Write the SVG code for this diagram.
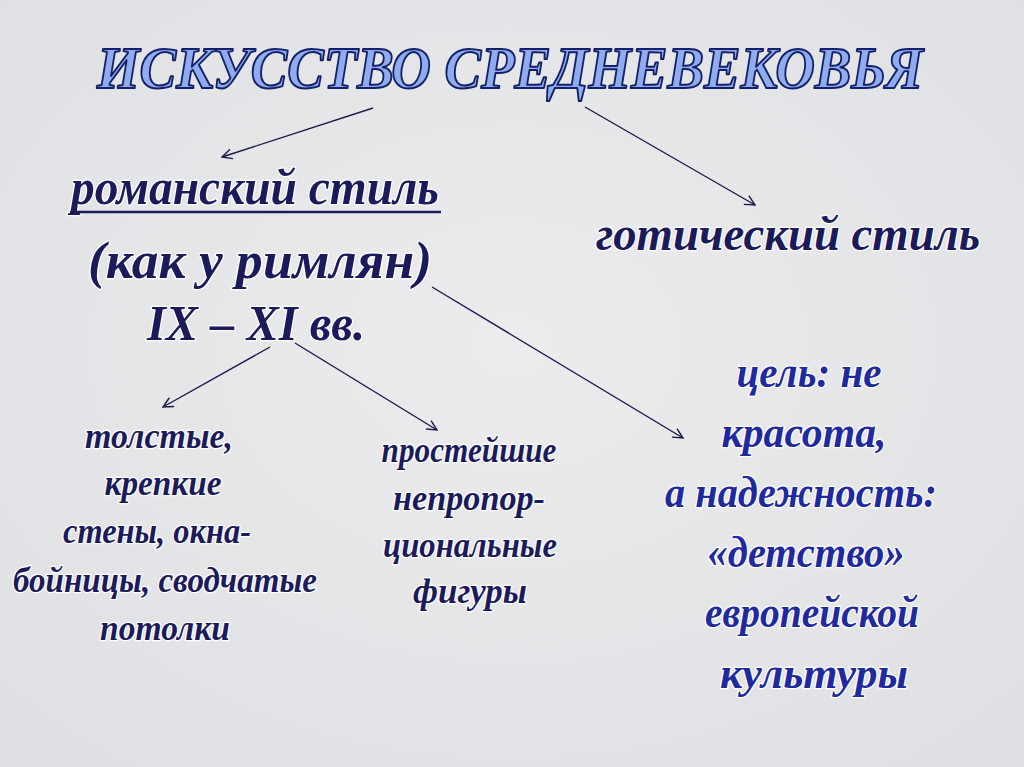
<svg xmlns="http://www.w3.org/2000/svg" width="1024" height="767" viewBox="0 0 1024 767">
<defs>
<radialGradient id="bg" cx="50%" cy="45%" r="70%">
<stop offset="0" stop-color="#ececee"/>
<stop offset="1" stop-color="#dfe0e3"/>
</radialGradient>
<marker id="ah" viewBox="0 0 12 12" refX="11" refY="6" markerWidth="12" markerHeight="12" markerUnits="userSpaceOnUse" orient="auto">
<path d="M1,1 L11,6 L1,11" fill="none" stroke="#1a1a4a" stroke-width="1.4"/>
</marker>
</defs>
<style>
.t{font-family:"Liberation Serif","DejaVu Serif",serif;font-style:italic;font-weight:bold;text-anchor:middle;paint-order:stroke;stroke-linejoin:round}
.d{fill:#1b1b5c;stroke:#ffffff;stroke-width:2.5}
.b{fill:#1f2a9e;stroke:#ffffff;stroke-width:2.5}
.title{fill:#8fadee;stroke:#14206a;stroke-width:2;paint-order:normal}
.c{fill:none;stroke:#1a1a4a;stroke-width:1.4}
</style>
<rect width="1024" height="767" fill="url(#bg)"/>
<g id="title"><text class="t title" x="510" y="88" font-size="60" textLength="826" lengthAdjust="spacingAndGlyphs">ИСКУССТВО СРЕДНЕВЕКОВЬЯ</text></g>
<g id="romanesque">
<text class="t d" x="255" y="204" font-size="50" textLength="368" lengthAdjust="spacingAndGlyphs">романский стиль</text>
<line x1="70" y1="212" x2="441" y2="212" stroke="#1b1b5c" stroke-width="2.5"/>
<text class="t d" x="260" y="278" font-size="52" textLength="344" lengthAdjust="spacingAndGlyphs">(как у  римлян)</text>
<text class="t d" x="256" y="340" font-size="50" textLength="218" lengthAdjust="spacingAndGlyphs">IX – XI вв.</text>
</g>
<g id="gothic"><text class="t d" x="788" y="250" font-size="48" textLength="384" lengthAdjust="spacingAndGlyphs">готический стиль</text></g>
<g id="walls" font-size="36">
<text class="t d" x="159" y="448" textLength="148" lengthAdjust="spacingAndGlyphs">толстые,</text>
<text class="t d" x="163" y="495" textLength="117" lengthAdjust="spacingAndGlyphs">крепкие</text>
<text class="t d" x="157" y="543" textLength="188" lengthAdjust="spacingAndGlyphs">стены,  окна-</text>
<text class="t d" x="165" y="592" textLength="304" lengthAdjust="spacingAndGlyphs">бойницы, сводчатые</text>
<text class="t d" x="165" y="640" textLength="130" lengthAdjust="spacingAndGlyphs">потолки</text>
</g>
<g id="figures" font-size="36">
<text class="t d" x="469" y="462" textLength="175" lengthAdjust="spacingAndGlyphs">простейшие</text>
<text class="t d" x="469" y="510" textLength="152" lengthAdjust="spacingAndGlyphs">непропор-</text>
<text class="t d" x="470" y="557" textLength="174" lengthAdjust="spacingAndGlyphs">циональные</text>
<text class="t d" x="470" y="603" textLength="114" lengthAdjust="spacingAndGlyphs">фигуры</text>
</g>
<g id="goal" font-size="44">
<text class="t b" x="809" y="387" textLength="145" lengthAdjust="spacingAndGlyphs">цель: не</text>
<text class="t b" x="804" y="447" textLength="165" lengthAdjust="spacingAndGlyphs">красота,</text>
<text class="t b" x="801" y="507" textLength="272" lengthAdjust="spacingAndGlyphs">а надежность:</text>
<text class="t b" x="806" y="567" textLength="197" lengthAdjust="spacingAndGlyphs">«детство»</text>
<text class="t b" x="812" y="627" textLength="214" lengthAdjust="spacingAndGlyphs">европейской</text>
<text class="t b" x="814" y="688" textLength="188" lengthAdjust="spacingAndGlyphs">культуры</text>
</g>
<g id="connectors">
<line class="c" x1="373" y1="108" x2="222" y2="157" marker-end="url(#ah)"/>
<line class="c" x1="585" y1="107" x2="755" y2="205" marker-end="url(#ah)"/>
<line class="c" x1="432" y1="287" x2="683" y2="438" marker-end="url(#ah)"/>
<line class="c" x1="270" y1="347" x2="163" y2="407" marker-end="url(#ah)"/>
<line class="c" x1="295" y1="343" x2="437" y2="430" marker-end="url(#ah)"/>
</g>
</svg>
